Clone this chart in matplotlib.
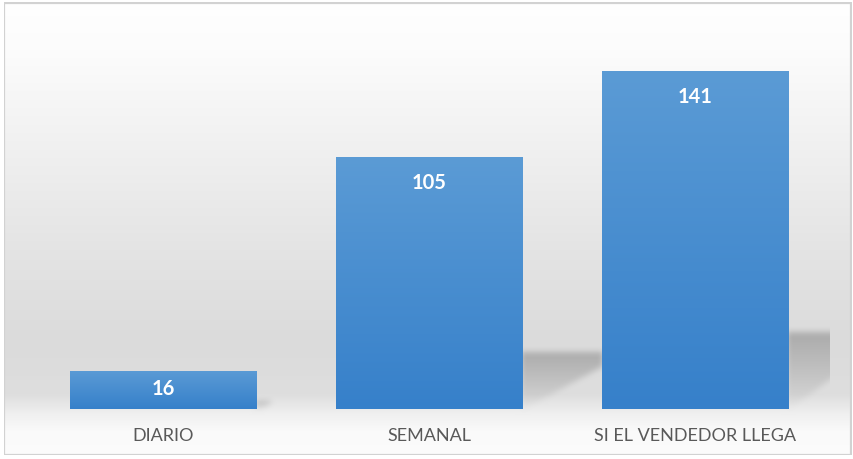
import numpy as np
import matplotlib
matplotlib.use("Agg")
import matplotlib.pyplot as plt
from matplotlib.colors import LinearSegmentedColormap
from matplotlib.patches import Rectangle

categorias = ["DIARIO", "SEMANAL", "SI EL VENDEDOR LLEGA"]
valores = [16, 105, 141]

W, H = 854, 460
plt.rcParams['font.family'] = ['Lato', 'DejaVu Sans']

fig = plt.figure(figsize=(W / 100, H / 100), dpi=100)
fig.patch.set_facecolor("white")

# eje principal (area de trazado)
x0, x1 = 30.5, 828.0
yb, yt = 410.0, 50.4
ax = fig.add_axes([x0 / W, (H - yb) / H, (x1 - x0) / W, (yb - yt) / H])
ax.set_xlim(-0.5, 2.5)
ax.set_ylim(0, 150)
ax.patch.set_alpha(0)
ax.set_zorder(2)

x = np.arange(len(categorias))
barras = ax.bar(x, valores, width=0.703, color="#4a8fd2", zorder=2)

# gradiente azul de cada barra
azul = LinearSegmentedColormap.from_list("azul", ["#3680ca", "#5b9bd5"])
grad = np.linspace(0, 1, 256).reshape(-1, 1)
for b in barras:
    bx, bw, bh = b.get_x(), b.get_width(), b.get_height()
    im = ax.imshow(grad, cmap=azul, origin="lower", aspect="auto",
                   extent=[bx, bx + bw, 0, bh], zorder=3)
    im.set_clip_path(b)

# etiquetas de valor
for b, v in zip(barras, valores):
    alto_px = ax.transData.transform((0, v))[1] - ax.transData.transform((0, 0))[1]
    off = 25 if alto_px > 60 else 17
    ax.annotate(str(v), (b.get_x() + b.get_width() / 2, v),
                xytext=(0, -off), textcoords="offset pixels",
                ha="center", va="center", color="white",
                fontsize=14.5, fontweight="bold", zorder=4)

ax.set_xticks(x)
ax.set_xticklabels(categorias, color="#595959", fontsize=13)
ax.tick_params(axis="x", length=0, pad=13)
ax.set_yticks([])
for s in ax.spines.values():
    s.set_visible(False)

# fondo con degradado gris + sombras de las barras
filas = np.arange(H)
stops_y = [0, 50, 150, 250, 340, 395, 415, 432, 460]
stops_c = [255, 252, 240, 228, 219, 222, 240, 250, 252]
fondo = np.interp(filas, stops_y, stops_c)[:, None] * np.ones((1, W))

sombra = np.zeros((H, W))
cols = np.arange(W)[None, :]
rows = filas[:, None]
for b in barras:
    (px_l, py_b), (px_r, py_t) = ax.transData.transform(
        [(b.get_x(), 0), (b.get_x() + b.get_width(), b.get_height())])
    base = H - py_b
    top_bar = H - py_t
    ts = base - 0.23 * (base - top_bar)
    ancho = 80.0 * min(1.0, (base - ts) / 50)
    t = (cols - px_r) / ancho
    limite = base - t * (base - ts) * 0.75
    dentro = (cols >= px_r - 2) & (cols <= px_r + ancho) & (rows >= ts) & (rows <= limite)
    frac = np.clip((rows - ts) / max(base - ts, 1), 0, 1)
    sombra = np.maximum(sombra, np.where(dentro, 48 * (1 - frac) ** 0.8, 0))

def suavizar(a, r):
    k = np.ones(2 * r + 1) / (2 * r + 1)
    for _ in range(2):
        a = np.apply_along_axis(lambda f: np.convolve(f, k, mode="same"), 0, a)
        a = np.apply_along_axis(lambda f: np.convolve(f, k, mode="same"), 1, a)
    return a

sombra = suavizar(sombra, 3)
# la sombra no sale del area de trazado
sombra[:, int(x1) + 2:] = 0
fondo = np.clip(fondo - sombra, 0, 255)

ax_bg = fig.add_axes([0, 0, 1, 1])
ax_bg.set_zorder(0)
ax_bg.imshow(np.dstack([fondo] * 3).astype(np.uint8), aspect="auto",
             extent=[0, W, H, 0], interpolation="bilinear")
ax_bg.set_xlim(0, W)
ax_bg.set_ylim(H, 0)
ax_bg.axis("off")
ax_bg.add_patch(Rectangle((4.5, 3.5), 847, 452, fill=False,
                          edgecolor="#d2d2d2", linewidth=1.6))
# blanco fuera del marco
for r in [(0, 0, W, 3), (0, 456, W, 4), (0, 0, 4, H), (852, 0, 2, H)]:
    ax_bg.add_patch(Rectangle(r[:2], r[2], r[3], color="white", lw=0))

fig.savefig("out.png", dpi=100)
